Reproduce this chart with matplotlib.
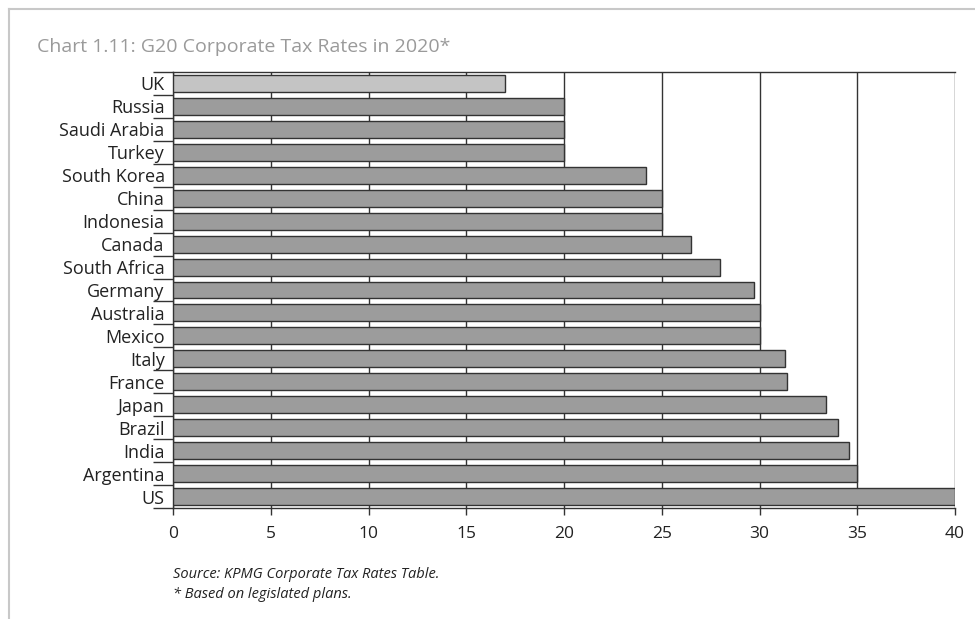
import matplotlib.pyplot as plt
from matplotlib.lines import Line2D
import numpy as np

# G20 headline corporate tax rates, 2020 (%)
countries = ['UK', 'Russia', 'Saudi Arabia', 'Turkey', 'South Korea', 'China',
             'Indonesia', 'Canada', 'South Africa', 'Germany', 'Australia',
             'Mexico', 'Italy', 'France', 'Japan', 'Brazil', 'India',
             'Argentina', 'US']
rates = [17, 20, 20, 20, 24.2, 25, 25, 26.5, 28, 29.7, 30, 30, 31.3, 31.4,
         33.4, 34, 34.6, 35, 40]
xticks = [0, 5, 10, 15, 20, 25, 30, 35, 40]

plt.rcParams['font.family'] = ['Open Sans', 'DejaVu Sans']

fig = plt.figure(figsize=(9.75, 6.19), dpi=100)
ax = fig.add_axes([173 / 975, 1 - 508 / 619, (955 - 173) / 975, (508 - 72) / 619])

y = np.arange(len(countries))
colors = ['#c4c4c4' if c == 'UK' else '#9c9c9c' for c in countries]
ax.barh(y, rates, height=0.74, color=colors, edgecolor='#333333',
        linewidth=1, zorder=3)

ax.set_xlim(0, 40)
ax.set_ylim(len(countries) - 0.5, -0.5)
ax.set_xticks(xticks)
ax.set_xticklabels([str(t) for t in xticks], fontsize=12.5, color='#222222')
ax.xaxis.grid(True, color='#333333', linewidth=1, zorder=1)
ax.tick_params(axis='x', length=5, width=1, color='#333333', pad=8)

# labels at bar centres, tick lines at category boundaries
ax.set_yticks(y)
ax.set_yticklabels(countries, fontsize=13, color='#222222')
ax.tick_params(axis='y', which='major', length=0, pad=6)
ax.set_yticks(np.arange(len(countries) + 1) - 0.5, minor=True)
ax.tick_params(axis='y', which='minor', length=14.5, width=1, color='#333333')

ax.spines['right'].set_visible(False)
for s in ['top', 'bottom', 'left']:
    ax.spines[s].set_color('#333333')
    ax.spines[s].set_linewidth(1)

fig.text(37 / 975, 1 - 52 / 619, 'Chart 1.11: G20 Corporate Tax Rates in 2020*',
         fontsize=14, color='#9a9a9a')
fig.text(173 / 975, 1 - 578 / 619, 'Source: KPMG Corporate Tax Rates Table.',
         fontsize=10.5, style='italic', color='#222222')
fig.text(173 / 975, 1 - 598 / 619, '* Based on legislated plans.',
         fontsize=10.5, style='italic', color='#222222')

# light frame along the top and left edge
fig.add_artist(Line2D([9 / 975, 1], [1 - 9 / 619, 1 - 9 / 619],
                      transform=fig.transFigure, color='#c8c8c8', linewidth=1.5))
fig.add_artist(Line2D([9 / 975, 9 / 975], [0, 1 - 9 / 619],
                      transform=fig.transFigure, color='#c8c8c8', linewidth=1.5))

fig.savefig('out.png', dpi=100)
